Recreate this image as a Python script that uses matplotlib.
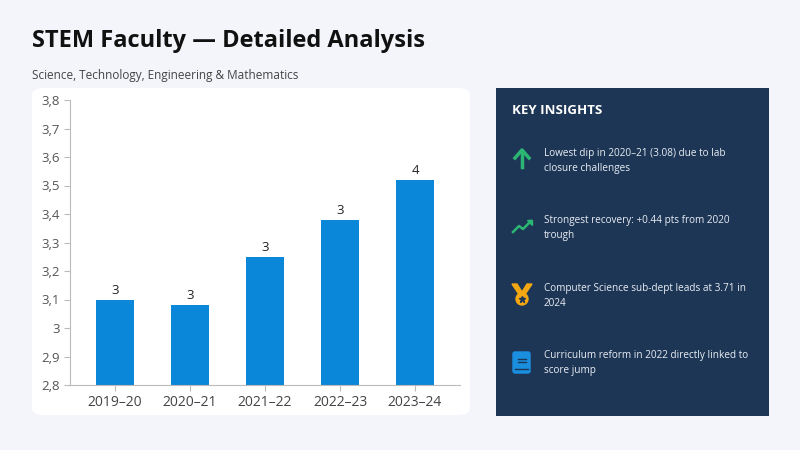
import matplotlib.pyplot as plt
from matplotlib.patches import FancyBboxPatch, Rectangle, Circle, Polygon
from matplotlib.ticker import FuncFormatter

years = ['2019–20', '2020–21', '2021–22', '2022–23', '2023–24']
scores = [3.10, 3.08, 3.25, 3.38, 3.52]
yticks = [2.8, 2.9, 3.0, 3.1, 3.2, 3.3, 3.4, 3.5, 3.6, 3.7, 3.8]
insights = ['Lowest dip in 2020–21 (3.08) due to lab\nclosure challenges',
            'Strongest recovery: +0.44 pts from 2020\ntrough',
            'Computer Science sub-dept leads at 3.71 in\n2024',
            'Curriculum reform in 2022 directly linked to\nscore jump']

plt.rcParams['font.family'] = ['Open Sans', 'DejaVu Sans']
fig = plt.figure(figsize=(8, 4.5), dpi=100)
fig.patch.set_facecolor('#f3f5fb')

def fx(px): return px / 800
def fy(py): return 1 - py / 450

fig.text(fx(32), fy(41), 'STEM Faculty — Detailed Analysis', fontsize=17, fontweight='bold',
         color='#111111', va='center')
fig.text(fx(32), fy(75), 'Science, Technology, Engineering & Mathematics', fontsize=8.5,
         color='#444444', va='center')

# white chart card
fig.patches.append(FancyBboxPatch((fx(32), fy(415)), fx(438), 327 / 450,
                                  boxstyle='round,pad=0,rounding_size=0.015', zorder=-1,
                                  transform=fig.transFigure, facecolor='white', edgecolor='none'))

ax = fig.add_axes([fx(70), fy(385), fx(390), 285 / 450])
ax.set_facecolor('none')
bars = ax.bar(years, scores, width=0.5, color='#0a87d8')
for b, v in zip(bars, scores):
    ax.text(b.get_x() + b.get_width() / 2, v + 0.01, f'{v:.0f}', ha='center', va='bottom',
            fontsize=9.5, color='#222222')
ax.set_ylim(2.8, 3.8)
ax.set_yticks(yticks)
ax.yaxis.set_major_formatter(FuncFormatter(lambda v, p: f'{v:.1f}'.replace('.0', '').replace('.', ',')))
ax.tick_params(axis='y', labelsize=9.5, colors='#555555', length=4, color='#bbbbbb')
ax.tick_params(axis='x', labelsize=10, colors='#444444', length=4, color='#bbbbbb')
for s in ['top', 'right']:
    ax.spines[s].set_visible(False)
for s in ['left', 'bottom']:
    ax.spines[s].set_color('#bbbbbb')
ax.set_xlim(-0.6, 4.6)

# insights panel
fig.patches.append(Rectangle((fx(496), fy(416)), fx(273), 328 / 450, transform=fig.transFigure,
                             facecolor='#1e3656', edgecolor='none', zorder=-1))
fig.text(fx(512), fy(111), 'KEY INSIGHTS', fontsize=9.5, fontweight='bold', color='white', va='center')
ys = [161, 228, 296, 363]
for y, t in zip(ys, insights):
    fig.text(fx(544), fy(y), t, fontsize=7.2, color='#e8edf3', va='center', linespacing=1.4)

iax = fig.add_axes([0, 0, 1, 1], facecolor='none')
iax.set_xlim(0, 800)
iax.set_ylim(450, 0)
iax.axis('off')
g = '#2bb673'
# up arrow
iax.plot([522, 522], [151, 167], color=g, lw=2.5)
iax.plot([515, 522, 529], [158, 150, 158], color=g, lw=2.5)
# trend
iax.plot([513, 519, 523, 531], [232, 226, 229, 221], color=g, lw=1.8)
iax.add_patch(Polygon([[527, 220], [532, 220], [532, 225]], color=g))
# medal
iax.add_patch(Polygon([[512, 284], [517, 284], [522, 292], [527, 284], [532, 284], [524, 296], [520, 296]],
                      color='#f3a712'))
iax.add_patch(Circle((522, 299), 6, color='#f3a712'))
iax.plot(522, 299, marker='*', color='#1e3656', ms=5)
# book
iax.add_patch(FancyBboxPatch((513, 352), 17, 21, boxstyle='round,pad=0,rounding_size=2',
                             color='#1a8fe0'))
iax.plot([518, 526], [359, 359], color='#1e3656', lw=1)
iax.plot([518, 526], [362, 362], color='#1e3656', lw=1)
iax.plot([515, 528], [369, 369], color='#1e3656', lw=1)

fig.savefig('out.png', dpi=100, facecolor=fig.get_facecolor())
